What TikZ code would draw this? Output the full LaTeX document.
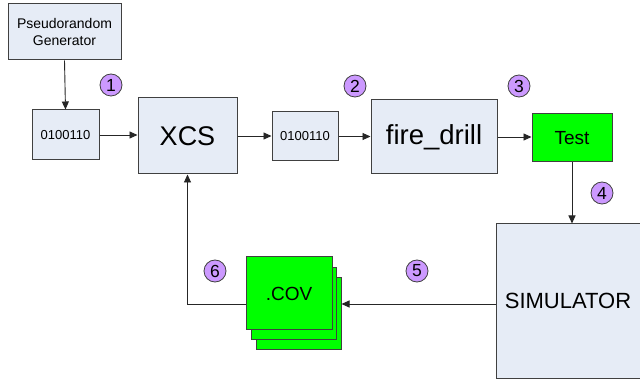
\documentclass[tikz,border=0pt]{standalone}
\usepackage{fontspec}
\setmainfont{Liberation Sans}
\usetikzlibrary{arrows.meta}
\definecolor{boxfill}{HTML}{E6ECF6}
\definecolor{boxline}{HTML}{404040}
\definecolor{gr}{HTML}{00FF00}
\definecolor{lav}{HTML}{CC99FF}
\tikzset{
  blk/.style={draw=boxline, line width=1pt, fill=boxfill, inner sep=0pt, align=center},
  grn/.style={draw=boxline, line width=1pt, fill=gr, inner sep=0pt},
  num/.style={circle, draw=boxline, line width=0.8pt, fill=lav, minimum size=22pt, inner sep=0pt, font=\fontsize{17.5}{17.5}\selectfont},
  arr/.style={draw=black!85, line width=0.9pt, -{Triangle[length=8pt,width=7pt]}},
  ln/.style={draw=black!70, line width=0.9pt}
}
\begin{document}
\begin{tikzpicture}[x=1pt,y=-1pt]
\useasboundingbox (0,0) rectangle (640,379);
\clip (0,0) rectangle (640,379);
\fill[white] (0,0) rectangle (640,379);
\node[blk, minimum width=113pt, minimum height=56pt, font=\fontsize{14}{17}\selectfont] (gen) at (64.5,32) {Pseudorandom\\Generator};
\node[blk, minimum width=67pt, minimum height=50pt, font=\fontsize{13}{14}\selectfont] (b1) at (65.5,135) {0100110};
\node[blk, minimum width=99pt, minimum height=76pt, font=\fontsize{27}{28}\selectfont] (xcs) at (187.5,136) {XCS};
\node[blk, minimum width=66pt, minimum height=49pt, font=\fontsize{13}{14}\selectfont] (b2) at (305,136.5) {0100110};
\node[blk, minimum width=126pt, minimum height=74pt, font=\fontsize{27.5}{28}\selectfont] (fire) at (434,137) {fire\_drill};
\node[grn, minimum width=80pt, minimum height=48pt, font=\fontsize{19}{20}\selectfont] (test) at (572,138) {Test};
\node[blk, minimum width=148pt, minimum height=154pt, font=\fontsize{22}{23}\selectfont] (sim) at (570,301) {\hspace{-4pt}SIMULATOR};
\node[grn, minimum width=85pt, minimum height=72pt] (cov3) at (298.5,314) {};
\node[grn, minimum width=85pt, minimum height=72pt] (cov2) at (293.5,304) {};
\node[grn, minimum width=86pt, minimum height=73pt, font=\fontsize{19}{20}\selectfont] (cov1) at (289,293.5) {.COV};
\coordinate (fb) at (0,304);
\draw[arr] (gen.south) -- (b1.north);
\draw[arr] (b1.east) -- (xcs.west |- b1.east);
\draw[arr] (xcs.east) -- (b2.west |- xcs.east);
\draw[arr] (b2.east) -- (fire.west |- b2.east);
\draw[arr] (fire.east) -- (test.west |- fire.east);
\draw[arr] (test.south) -- (test.south |- sim.north);
\draw[arr] (sim.west |- fb) -- (cov3.east |- fb);
\draw[arr] (cov1.west |- fb) -| (xcs.south);
\node[num] (n1) at (111,85) {1};
\node[num] (n2) at (355,86) {2};
\node[num] (n3) at (519,86) {3};
\node[num] (n4) at (602,193) {4};
\node[num] (n5) at (417,271) {5};
\node[num] (n6) at (215,271) {6};
\end{tikzpicture}
\end{document}
